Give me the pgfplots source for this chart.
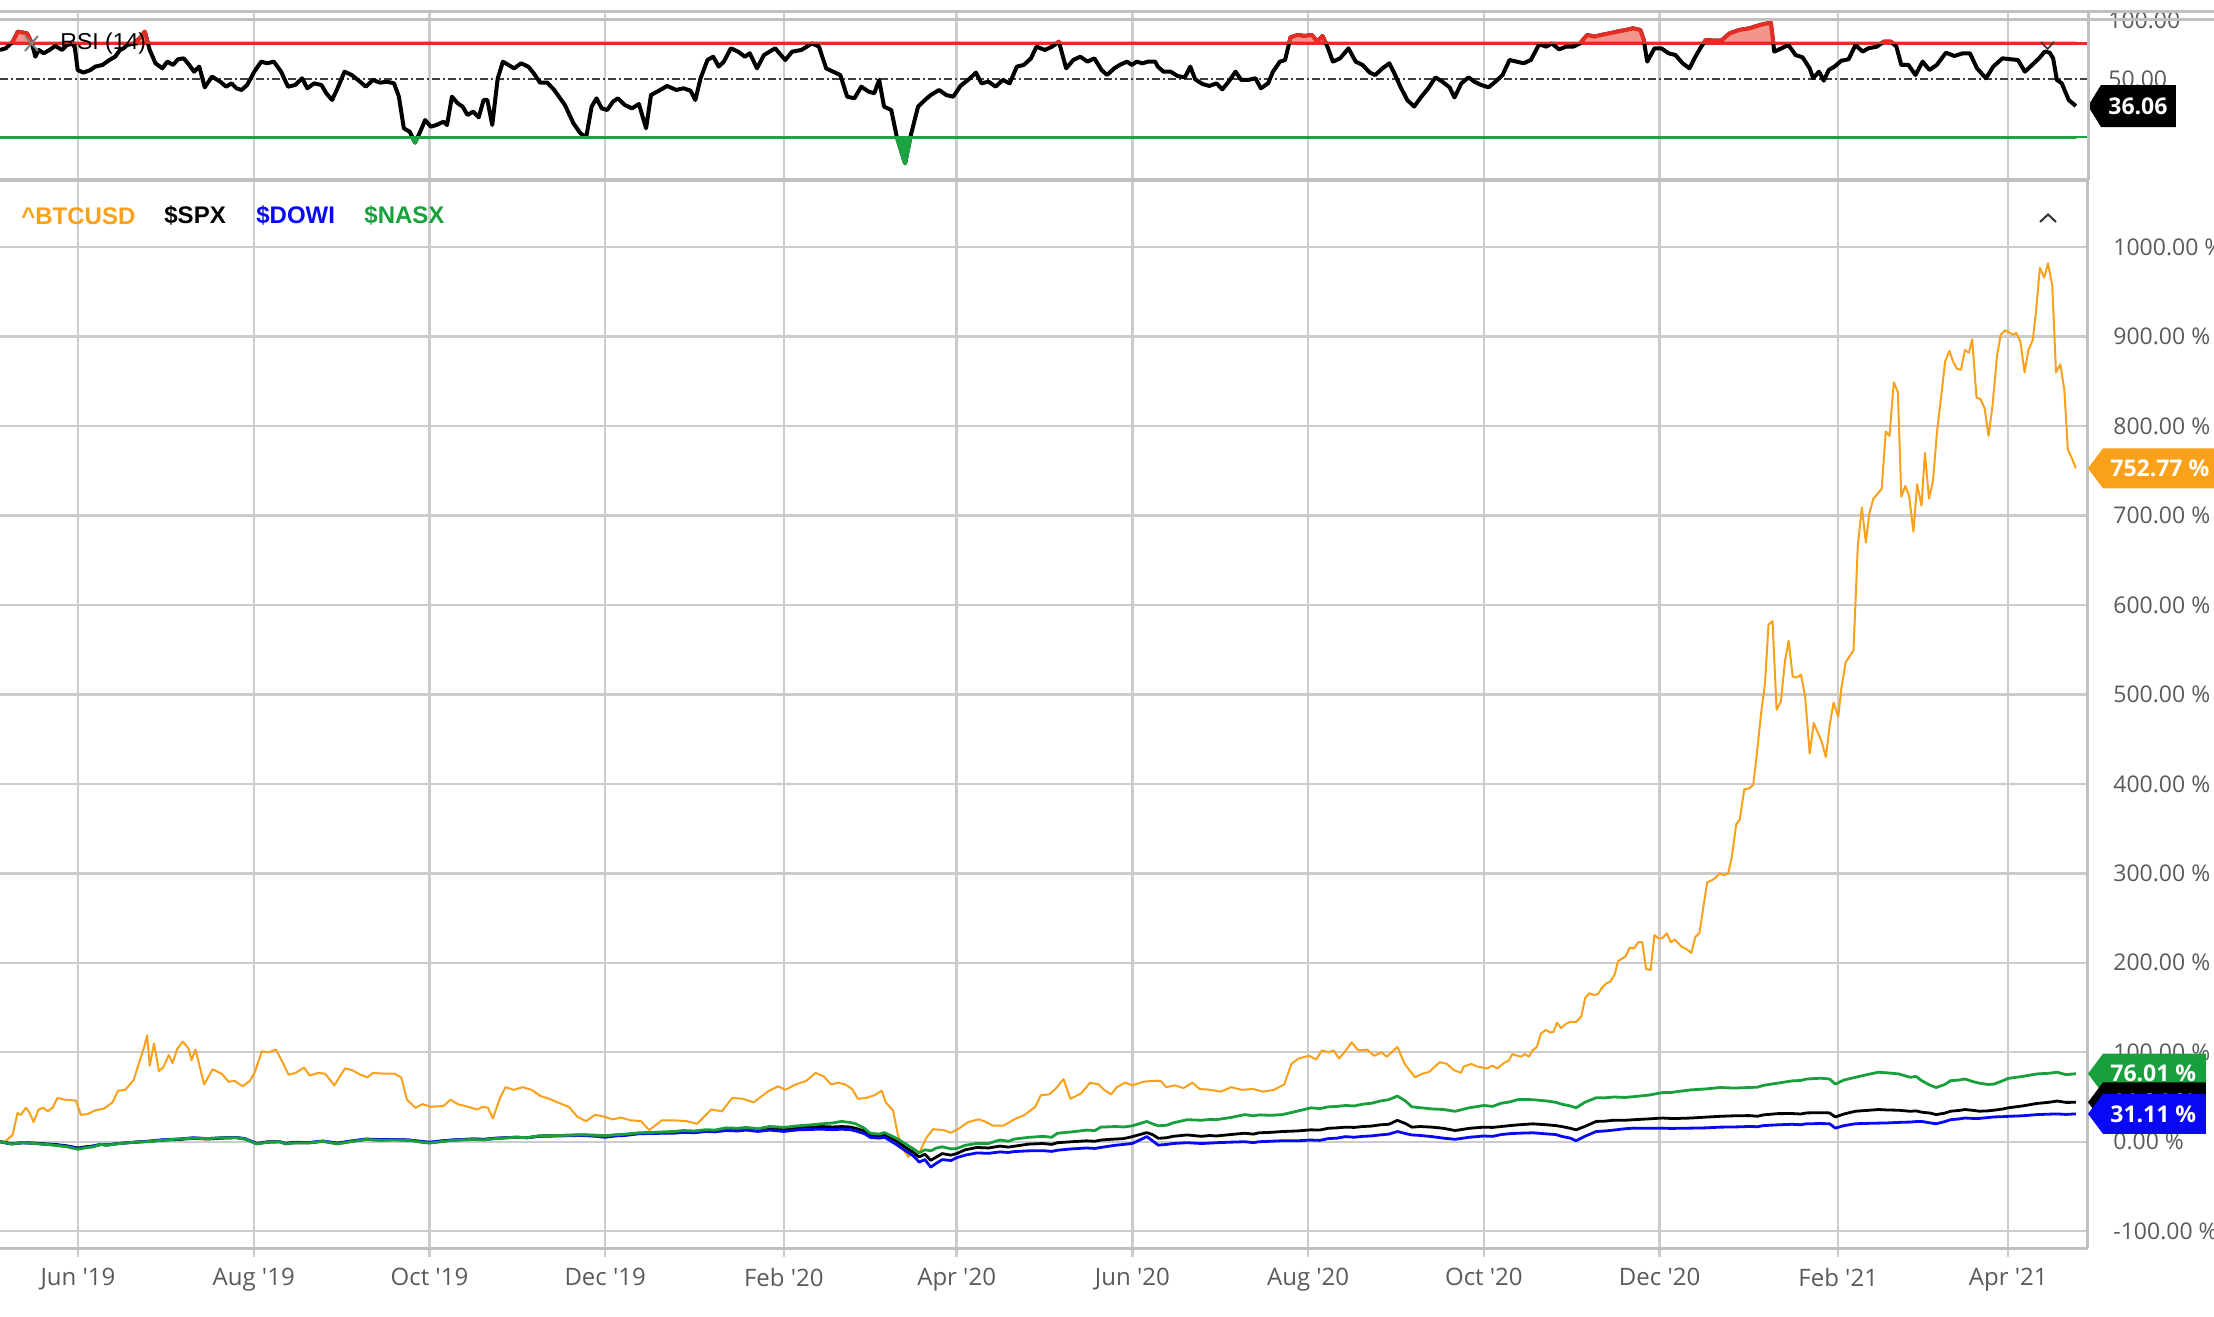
\documentclass[border=0pt]{standalone}
\usepackage{fontspec}
\setmainfont{Open Sans}
\newfontfamily\arial{Liberation Sans}
\usepackage{pgfplots}
\usepackage{pgfplotstable}
\pgfplotsset{compat=1.18}
\definecolor{btc}{RGB}{249,161,27}
\definecolor{nasx}{RGB}{24,160,60}
\definecolor{dowi}{RGB}{8,8,245}
\definecolor{gridgray}{RGB}{204,204,204}
\definecolor{axisgray}{RGB}{192,192,192}
\definecolor{labelgray}{RGB}{90,90,90}
\definecolor{rsired}{RGB}{228,45,36}
\definecolor{rsifill}{RGB}{242,150,138}
\definecolor{rsigreen}{RGB}{28,163,66}

\pgfplotstableread{
d v
-27.07 0
-25.2 0.5
-22.7 7.6
-21 32
-19.8 30
-18.1 38
-16.9 33
-15.4 22
-13.7 36
-12 38
-10.5 34
-8.8 38
-7.1 49
-4.6 47
-0.7 46
1 30
3.4 31
5.9 35
9 37
12 44
13.9 57
16.4 58
19.3 69
21.3 89
23 106
24 119
24.9 85
26.4 110
28.1 79
29.6 83
31.5 97
32.8 88
34.5 104
36.4 112
38.4 104
39.4 91
40.8 103
43.8 64
46.7 81
49.9 76
52.3 67
54.3 68
57.2 62
59.7 68
61.4 78
63.8 101
66.3 100
68.7 103
70.7 91
73.1 75
75.6 77
78.5 83
80.4 74
83.4 77
85.8 76
89 63
90.7 72
92.7 82
95.1 80
98 75
100.5 72
102.4 77
106.1 76
109.8 76
112.2 72
114.2 47
117.1 38
119.6 42
122.5 39
126.9 40
129.3 47
131.8 42
135.5 39
138.6 36
140.3 39
142.3 38
144 26
146.5 49
148.4 61
151.3 58
154.3 61
157.5 58
160.6 51
163.6 48
167.2 43
170.4 39
173.3 28
176.3 23
179.5 30
182.6 28
185.6 25
188.5 27
191.7 24
195.4 23
198.3 13
202.7 24
206.4 24
211.2 23
214.9 20
219.8 36
223.5 34
227.1 49
230.8 48
234.5 44
239.4 56
243 62
245.5 58
249.1 64
252.8 68
256 77
258.9 73
261.4 64
263.8 66
266.3 64
268.7 59
270.7 48
273.6 49
276.5 52
279 57
280.4 44
282.9 35
284.6 8
286.3 -8
288.3 -17
290.2 -8
292 -13
294.4 4
296.8 14
300.5 13
303 10
305.9 15
309 22
312.7 25
315.2 22
317.6 18
321.3 18
325 25
328.6 30
332.3 39
334.2 52
337.2 53
339.6 60
342.1 70
344.5 48
348.2 54
351.3 66
354.3 64
356.2 58
358.6 53
360.6 61
363.5 66
366 63
369.7 67
372.9 68
375.8 68
377.8 61
380.7 63
383.7 60
386.9 66
389.3 59
393 58
396.7 56
400.3 61
404 58
407.7 59
411.4 56
415.1 58
418.7 64
421.2 87
423.7 93
427.3 96
429.8 92
431.8 102
434.2 100
435.9 102
437.7 93
439.6 100
442.1 111
444.5 102
447.5 103
449.9 96
452.4 100
454.3 95
458 106
460.5 87
464.1 72
466.6 76
469 78
472.7 89
475.2 87
477.6 80
480.1 77
481 84
483.6 87
485.7 84
489.2 82
490.9 85
492.7 82
495 88
496.7 91
497.9 98
500.8 95
502.2 98
503.6 95
504.9 102
506.4 106
507.8 121
509.6 125
511.1 122
512.2 123
513.4 133
514.8 127
516.6 132
518.1 134
520.1 134
521.8 140
523.2 161
524.7 166
526.2 164
527.6 165
529 172
530.5 177
531.9 179
533.4 187
534.6 202
537.2 207
538.6 217
540.1 216
541.6 223
543 223
544.3 193
545.9 192
547.2 231
548.8 227
550.1 228
551.5 233
552.9 223
554.2 226
556.7 218
558.5 215
560 211
561.4 229
562.8 233
565.5 290
567 292
568.4 295
569.8 300
571.3 298
572.8 300
574 317
575.6 355
576.8 360
578.4 394
580.1 395
581.5 399
582.6 429
584.2 478
585.6 513
586.8 578
588.2 582
589.6 483
591.1 492
592.5 537
593.8 560
595.2 520
596.6 519
598.1 522
599.5 498
601.1 434
602.5 468
605.2 448
606.7 430
608.1 467
609.4 491
611 475
612.1 507
613.6 536
615 543
616.3 549
617.8 666
619.2 709
620.6 670
621.8 702
623.2 719
624.6 724
626.1 730
627.5 794
628.8 789
630.3 849
631.7 838
632.9 721
634.3 733
635.6 722
637.1 682
638.4 735
639.9 711
641.1 770
642.5 719
643.9 739
645.3 794
646.7 832
648.1 872
649.6 884
650.9 872
652.2 864
653.6 863
655 885
656.4 882
657.5 897
659 832
660.4 830
661.8 820
663.2 789
664.6 824
666.1 878
667.4 902
668.9 907
670.2 905
671.7 902
672.8 904
674.2 895
675.7 860
677 885
678.5 896
679.6 926
681 977
682.5 966
683.8 982
685.3 957
686.6 860
688.1 869
689.5 840
690.7 774
692.1 764
693.5 752.77
}\btc

\pgfplotstableread{
d spx nasx dowi
-27.07 0 0 0
-25 -1 -1.2 -1.5
-23 -2 -2.5 -2.5
-19 -1 -1 -1.2
-15 -1.5 -2 -2
-11 -2.5 -3 -2.8
-8 -3 -4 -3.5
-4 -4.5 -5.5 -5
0 -7 -8.5 -7.5
3 -5.5 -6.5 -6
5 -5 -6 -5
8 -3 -3 -3
10 -3.8 -4 -3.5
14 -2 -2.2 -2
20 -0.4 -0.5 -0.5
25 0.5 0.2 0.8
30 1.9 2 2.5
35 2.5 3 3
40 3.8 4 4.5
45 3 3.5 3.5
50 4 4.5 4.5
55 4.5 4.5 4.8
58 3 3 3.5
62 -1.9 -2.5 -2
66 0 -0.5 -0.5
70 0 0 0
72 -2 -2.5 -1.8
75 -1 -1.5 -0.5
80 -1.1 -1.5 -1
85 0.5 0.5 0.8
90 -1.9 -2.5 -1.5
95 0.5 0.2 1
100 2.7 2.5 3
105 2 1.5 2.5
110 2.5 2 2.5
115 1.9 1.5 1.8
119 0 -0.5 0.5
122 -1.1 -1.5 -0.5
126 0.5 0 1
130 1.9 1.5 2
137 3 2.5 3
141 2.5 2 2.8
145 3.8 3.5 4
152 5 5 5
156 4.5 4.5 4.5
160 6.4 6.5 6
168 7 7 6.5
175 7.6 7.8 7
180 7 7.2 6
183 6.4 6.8 5
187 7.5 7.8 6.5
190 8 8.5 7
195 9.5 10 9
200 9.8 10.5 9.2
203 10 11 9.5
207 10.5 11.5 9.5
210 11.4 12.5 10.5
214 11 12 10
218 12.5 13.5 11.5
221 12 13 11
225 14 15.5 12.5
229 13.5 15 12
232 14.5 16 13
236 13 14.5 11.5
240 15 17 13
245 13.5 16 11.5
250 15.9 17.8 13.3
255 16.5 19 13.8
258 17 20 14
262 16.5 21 13.5
265 17 22.7 14
268 16.5 21.5 13.5
270 15 20 12
273 12 15 9
275 7.6 9.5 4.9
278 6.5 8.5 4
280 8 10.2 5
284 1 4 -3
287 -5.7 -1.9 -9.5
290 -12 -8 -16
292 -17 -12.5 -22.7
294 -14 -9 -20
296 -20.8 -10.2 -28.4
298 -17 -7 -24
300 -13.3 -5.7 -20
303 -15 -8 -21
305 -13.3 -7.6 -17.8
308 -9 -4 -15
312 -6.4 -1.9 -12.5
316 -7 -2 -13
320 -4.9 1.9 -11.4
323 -6 0.5 -12
325 -5 3 -11
330 -2.7 4.9 -10.2
335 -2 6 -10
338 -3 5 -10.8
340 -1.1 9.5 -9.5
345 0 11 -8
350 1 13 -7
353 0.5 12.5 -7.5
355 1.9 16.3 -6.4
360 3 17 -4
363 3.5 16.5 -3
366 5.7 17.8 -1.9
371 10.2 22.7 5.7
373 8 20 1
375 3.8 17.8 -3.8
378 4.5 18.5 -3
380 6 21 -2
385 7.6 24.6 -1.1
390 6 24 -2
393 7 25 -1.5
395 6.4 24.6 -1.1
400 8 27 -0.5
405 9.5 30.3 0
408 8.5 29 -1
410 10 30 0
414 10.5 29.5 0.5
418 11.4 30.3 1.1
423 12 34 1
428 13.3 37.9 1.9
431 13 37 1.5
434 15 39 3.5
437 15.5 39.5 4
440 16.3 40.5 5.7
443 16 40 5
446 17 42 6
449 17.5 43 6.5
452 18.9 45.5 7.6
455 19.5 47 8.5
458 23.9 51.1 11.4
461 20 45 9
463 16.3 39 7.6
466 17 38 7
470 16.3 36.7 5.7
474 15 36 4
478 12.5 34 2.7
483 15 38 5
488 16.3 40.5 6.4
491 16 39.5 6
494 17 43 8
497 18 44.5 9
500 18.9 47.3 9.5
505 20 47 10
510 18.9 45.5 8.7
513 18 44 8
515 17 42 6
518 15 40 4
520 13.3 37.9 1.1
523 17 44 6
527 22.7 49.2 11.4
530 23 49 12
533 24 50 13
537 24 49.5 14.5
540 24.6 50.4 15.2
545 25.5 52 15
550 26.5 54.9 15.2
553 26 55 14.8
555 26 56 15
560 26.5 58 15.2
565 27.5 59 15.5
570 28.4 60.6 16.3
575 29 60 16.5
580 29.2 60.6 17
583 28.5 61 16.8
585 30 63 18
590 31.4 65.5 18.9
595 31.5 68 19.5
598 31 68.5 19
600 32.2 70.1 20.1
605 32.5 71 20.3
608 32.2 70.1 20.1
610 27.7 64.4 15.2
613 31 69 18
617 34.1 72 20.1
621 35 75 20.5
625 36 77.7 20.8
628 35.5 77 21
632 35.2 75.8 21.6
636 34 72 22
638 34.5 73 22.5
640 33 68.2 22.7
643 32 63 21
645 30.3 60.6 20.1
648 32 64 22.5
650 34.1 68.2 24.6
653 35 69 25.5
655 36 70.1 26.5
658 35 67 26
660 34.1 65.5 26.1
663 34.5 64 27
665 35.2 64.4 27.7
668 36.5 68 28
670 37.9 70.8 28.4
675 40 73 29
680 42.8 75.8 30.3
684 44 76.5 30.8
687 45.5 77.7 31.1
690 44 75 30.5
693.5 44.04 76.01 31.11
}\idx

\pgfplotstableread{
d v
-27.06 74.6
-25.1 76.0
-22.6 81.6
-20.9 90.1
-19.2 89.3
-17.7 88.7
-16.0 80.2
-14.8 68.9
-13.6 74.6
-11.9 71.8
-9.9 74.6
-7.9 78.0
-5.5 74.6
-3.8 78.8
-1.3 80.2
-0.1 57.6
1.9 55.4
4.3 57.6
6.0 60.5
8.5 61.9
10.9 66.1
12.9 68.9
14.6 74.6
15.8 76.0
17.1 78.8
19.5 80.2
22.0 85.9
23.2 90.1
24.9 74.6
26.9 63.3
29.3 59.0
31.0 64.7
33.0 61.9
34.7 66.7
36.7 67.5
38.6 61.9
40.3 56.2
42.1 60.5
44.0 42.9
46.5 52.0
49.4 47.7
51.4 43.5
53.3 46.3
55.0 42.1
56.8 40.7
58.7 44.9
61.2 56.2
63.6 64.7
65.6 63.3
68.0 64.7
70.5 56.2
72.9 43.5
75.4 44.9
77.8 50.6
79.6 42.1
82.0 46.3
84.5 44.9
86.2 37.9
88.2 32.2
90.1 42.1
92.5 56.2
95.0 53.4
97.9 47.7
99.9 43.5
102.4 49.2
104.8 46.9
107.3 47.7
109.7 46.3
111.4 35.0
113.1 8.2
115.1 5.4
117.0 -3.9
118.8 5.4
120.5 15.2
122.5 9.6
124.4 11.0
126.9 13.8
128.1 11.0
129.8 35.0
131.8 29.4
133.5 26.6
135.2 19.5
137.2 22.3
139.1 17.5
140.8 32.2
142.1 32.2
143.8 11.0
145.7 50.6
147.5 64.7
149.4 61.9
151.4 59.0
153.8 63.3
156.3 60.5
158.2 54.8
160.4 46.9
162.9 46.9
165.3 40.7
169.0 28.0
172.0 12.4
174.4 3.95
176.4 0.6
178.3 26.6
180.0 33.6
181.8 25.1
183.7 23.7
185.7 30.8
187.4 33.6
189.8 28.0
192.3 25.1
194.7 28.8
197.2 8.2
198.9 36.4
202.1 40.7
204.5 44.1
207.7 40.7
210.2 42.1
212.6 40.1
214.3 32.2
216.1 50.6
218.5 66.1
220.5 68.9
222.4 60.5
224.2 64.7
226.6 76.0
229.1 73.2
231.5 68.9
233.2 71.8
235.7 59.0
238.1 70.3
242.0 76.0
245.5 66.1
247.9 73.2
251.1 74.6
254.8 80.2
257.2 77.4
259.7 59.0
262.1 56.2
264.6 53.4
267.0 35.0
269.5 33.6
271.9 43.5
274.4 39.3
276.4 37.9
278.1 49.2
279.8 26.6
282.3 23.7
284.2 1.1
287.1 -21.5
289.1 2.5
291.6 26.6
294.0 32.2
296.0 36.4
298.9 40.7
301.4 36.4
303.8 35.0
306.3 44.1
309.2 49.7
311.7 55.4
313.6 46.3
316.1 47.7
318.5 43.5
321.0 49.2
323.4 46.3
325.9 60.5
328.3 61.9
330.8 67.5
332.7 77.4
335.6 74.6
338.1 77.4
340.5 81.6
343.0 59.0
345.5 66.1
347.9 68.9
350.4 64.7
352.8 67.5
355.3 57.6
357.2 53.4
359.7 59.0
361.6 61.9
364.1 64.7
365.8 61.9
367.5 64.7
369.5 63.3
371.4 64.7
373.9 64.7
374.8 60.5
376.8 56.2
379.3 56.2
381.7 52.5
384.2 51.4
386.1 60.5
387.8 49.7
390.3 45.8
392.7 44.1
395.2 46.3
397.2 41.2
399.4 47.7
401.8 56.2
403.8 49.2
406.2 49.2
408.7 50.6
410.6 42.1
413.1 46.3
414.8 56.2
417.2 64.7
419.0 66.1
420.9 85.3
423.4 87.3
425.8 86.4
428.3 87.3
430.2 81.6
432.0 86.4
433.7 77.4
435.6 64.7
438.1 67.5
441.0 76.0
443.5 64.7
445.9 61.9
448.4 55.4
450.3 53.4
452.8 59.0
455.2 63.3
457.2 53.4
458.9 44.1
461.4 32.2
463.8 26.6
466.3 35.0
468.7 42.1
471.2 51.4
473.6 47.7
476.1 42.9
477.8 34.4
480.2 46.3
482.7 51.4
484.7 47.7
487.1 44.9
489.6 42.9
492.0 47.7
494.5 53.4
496.9 66.1
499.4 64.7
501.8 63.3
504.3 66.1
507.2 79.4
509.7 77.4
511.6 80.2
514.1 75.1
516.5 77.4
519.0 77.4
521.4 80.2
523.9 87.3
526.3 85.9
528.8 87.3
531.7 88.7
534.2 90.1
537.3 91.5
539.8 92.9
542.3 91.5
543.5 83.0
544.7 64.7
547.2 76.0
549.6 76.0
552.1 71.8
554.5 70.3
557.0 63.3
559.4 59.0
561.1 67.5
563.1 76.0
565.0 83.0
568.0 82.5
570.4 82.5
573.4 88.7
576.6 91.5
580.2 92.9
583.9 95.8
587.6 97.7
588.8 73.2
591.3 76.0
593.7 78.8
596.2 70.3
598.6 68.4
601.1 59.0
602.3 50.6
604.3 56.2
606.0 48.6
607.7 57.6
609.7 60.5
612.1 65.5
614.6 66.7
617.0 78.8
619.5 73.2
621.4 76.0
624.4 77.4
626.8 81.6
629.3 81.6
631.2 77.4
632.9 61.9
635.4 61.9
637.8 53.4
640.3 64.7
642.7 57.6
645.2 61.9
648.4 72.3
651.3 69.5
654.3 71.8
656.7 71.8
659.2 59.0
662.3 50.6
664.8 60.5
668.0 67.5
670.9 66.7
673.4 66.1
675.8 56.2
678.3 61.9
680.7 67.5
682.7 73.2
684.4 72.3
685.6 67.5
686.9 49.2
688.6 46.3
691.0 32.2
693.5 27.1
}\rsi

\newcommand{\q}{\textquotesingle}
\newcommand{\tagfont}{\bfseries\fontsize{11.5}{12}\selectfont}
\begin{document}
\begin{tikzpicture}
\useasboundingbox (0,0) rectangle (1107pt,658pt);
\fill[white] (0,0) rectangle (1107pt,658pt);

% ---------------- RSI panel ----------------
\begin{axis}[
  at={(0pt,568pt)}, anchor=south west,
  width=1044pt, height=84pt, scale only axis,
  xmin=-27.07, xmax=697.7, ymin=-35.6, ymax=106.8,
  axis line style={draw=none},
  xtick={0,61,122,183,245,305,366,427,488,549,611,670},
  xticklabels={},
  xmajorgrids,
  major grid style={draw=gridgray, line width=1.2pt},
  ytick={50,100}, yticklabels={50.00,100.00},
  yticklabel pos=right,
  tick style={draw=none},
  yticklabel style={font=\fontsize{11.5}{12}\selectfont, text=labelgray, anchor=west, inner sep=0pt, xshift=10pt},
  clip=false,
]
\addplot[rsired, line width=1.3pt] coordinates {(-27.07,80) (697.7,80)};
\addplot[black!75, line width=1.1pt, dash pattern=on 4pt off 1.5pt on 1pt off 1.5pt] coordinates {(-27.07,50) (697.7,50)};
\addplot[rsigreen, line width=1.3pt] coordinates {(-27.07,1) (697.7,1)};
\addplot[black, line width=2pt, line join=round] table[x=d,y=v] {\rsi};
\begin{scope}
\clip (axis cs:-27.07,80) rectangle (axis cs:697.7,106.8);
\addplot[draw=rsired, fill=rsifill, line width=2pt, line join=round] table[x=d,y=v] {\rsi} -- (axis cs:693.5,80) -- (axis cs:-27.06,80) -- cycle;
\end{scope}
\begin{scope}
\clip (axis cs:-27.07,-35.6) rectangle (axis cs:697.7,1);
\addplot[draw=rsigreen, fill=rsigreen, line width=2pt, line join=round] table[x=d,y=v] {\rsi} -- (axis cs:693.5,1) -- (axis cs:-27.06,1) -- cycle;
\end{scope}
\coordinate (trsi) at (axis cs:697.7,27.1);
\end{axis}

% ---------------- main panel ----------------
\begin{axis}[
  at={(0pt,34pt)}, anchor=south west,
  width=1044pt, height=534pt, scale only axis,
  xmin=-27.07, xmax=697.7, ymin=-118.8, ymax=1075.1,
  axis x line*=bottom, axis y line*=right,
  axis line style={draw=axisgray, line width=1.5pt},
  xtick={0,61,122,183,245,305,366,427,488,549,611,670},
  xticklabels={Jun \q19,Aug \q19,Oct \q19,Dec \q19,Feb \q20,Apr \q20,Jun \q20,Aug \q20,Oct \q20,Dec \q20,Feb \q21,Apr \q21},
  ytick={-100,0,100,200,300,400,500,600,700,800,900,1000},
  yticklabels={-100.00 \%,0.00 \%,100.00 \%,200.00 \%,300.00 \%,400.00 \%,500.00 \%,600.00 \%,700.00 \%,800.00 \%,900.00 \%,1000.00 \%},
  xmajorgrids, ymajorgrids,
  major grid style={draw=gridgray, line width=1.2pt},
  tick align=outside, major tick length=4.5pt,
  xtick style={draw=gridgray, line width=1.2pt},
  ytick style={draw=none},
  xticklabel style={font=\fontsize{12}{12}\selectfont, text=labelgray, yshift=-2pt},
  yticklabel style={font=\fontsize{11.5}{12}\selectfont, text=labelgray, anchor=west, inner sep=0pt, xshift=8pt},
  clip=false,
]
\addplot[btc, line width=1pt, line join=round] table[x=d,y=v] {\btc};
\addplot[black, line width=1.4pt, line join=round] table[x=d,y=spx] {\idx};
\addplot[dowi, line width=1.4pt, line join=round] table[x=d,y=dowi] {\idx};
\addplot[nasx, line width=1.4pt, line join=round] table[x=d,y=nasx] {\idx};
\coordinate (tbtc) at (axis cs:697.7,752.77);
\coordinate (tnas) at (axis cs:697.7,76.01);
\coordinate (tspx) at (axis cs:697.7,44.04);
\coordinate (tdow) at (axis cs:697.7,31.11);
\end{axis}

% ---------------- value tags ----------------
\fill[btc] (tbtc) -- ++(7.5pt,10pt) -- ++(56pt,0pt) -- ++(0pt,-20pt) -- ++(-56pt,0pt) -- cycle;
\node[anchor=west, inner sep=0pt, text=white, font=\tagfont] at ([xshift=11pt]tbtc) {752.77 \%};
\fill[nasx] (tnas) -- ++(7.5pt,10pt) -- ++(51.5pt,0pt) -- ++(0pt,-20pt) -- ++(-51.5pt,0pt) -- cycle;
\node[anchor=west, inner sep=0pt, text=white, font=\tagfont] at ([xshift=11pt]tnas) {76.01 \%};
\fill[black] (tspx) -- ++(7.5pt,10pt) -- ++(51.5pt,0pt) -- ++(0pt,-20pt) -- ++(-51.5pt,0pt) -- cycle;
\node[anchor=west, inner sep=0pt, text=white, font=\tagfont] at ([xshift=11pt]tspx) {44.04 \%};
\fill[dowi] (tdow) -- ++(7.5pt,10pt) -- ++(51.5pt,0pt) -- ++(0pt,-20pt) -- ++(-51.5pt,0pt) -- cycle;
\node[anchor=west, inner sep=0pt, text=white, font=\tagfont] at ([xshift=11pt]tdow) {31.11 \%};
\fill[black] (trsi) -- ++(6.5pt,10.5pt) -- ++(37.5pt,0pt) -- ++(0pt,-21pt) -- ++(-37.5pt,0pt) -- cycle;
\node[anchor=west, inner sep=0pt, text=white, font=\tagfont] at ([xshift=10pt]trsi) {36.06};

% ---------------- frame and texts (pixel units, y down) ----------------
\begin{scope}[x=0.5pt, y=-0.5pt, shift={(0pt,658pt)}]
\draw[axisgray, line width=1.5pt] (0,12) -- (2214,12);
\draw[axisgray, line width=1.5pt] (0,20) -- (2214,20);
\draw[axisgray, line width=2pt] (0,180) -- (2088,180);
\draw[axisgray, line width=1.5pt] (2088,12) -- (2088,180);
\draw[gray, line width=1pt] (25,36) -- (38,51) (38,36) -- (25,51);
\node[anchor=west, inner sep=0pt, font=\arial\fontsize{11.5}{12}\selectfont] at (60,44) {RSI (14)};
\draw[black!80, line width=0.8pt] (2041,42) -- (2047.5,49) -- (2054,42);
\draw[black!80, line width=1pt] (2040,222) -- (2048,214.5) -- (2056,222);
\node[anchor=west, inner sep=0pt, text=btc, font=\arial\bfseries\fontsize{12}{12}\selectfont] at (21,216) {\textasciicircum BTCUSD};
\node[anchor=west, inner sep=0pt, text=black, font=\arial\bfseries\fontsize{12}{12}\selectfont] at (164,216) {\$SPX};
\node[anchor=west, inner sep=0pt, text=dowi, font=\arial\bfseries\fontsize{12}{12}\selectfont] at (256,216) {\$DOWI};
\node[anchor=west, inner sep=0pt, text=nasx, font=\arial\bfseries\fontsize{12}{12}\selectfont] at (364,216) {\$NASX};
\end{scope}
\end{tikzpicture}
\end{document}
